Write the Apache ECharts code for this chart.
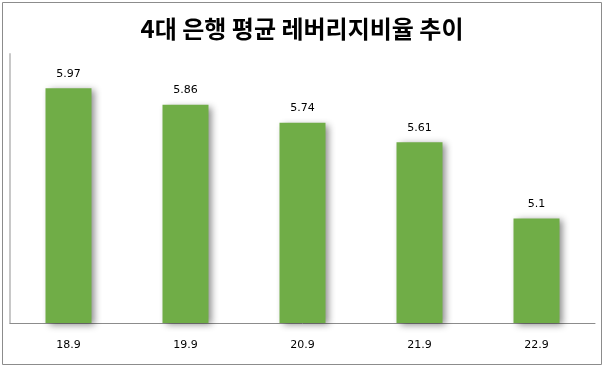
<!DOCTYPE html>
<html><head><meta charset="utf-8">
<script src="https://cdn.jsdelivr.net/npm/echarts@6/dist/echarts.min.js"></script>
<style>html,body{margin:0;padding:0;background:#fff}#c{width:604px;height:367px}</style>
</head><body><div id="c"></div>
<script>
const titleText = '4대 은행 평균 레버리지비율 추이';
const categories = ['18.9', '19.9', '20.9', '21.9', '22.9'];
const values = [5.97, 5.86, 5.74, 5.61, 5.1];

const chart = echarts.init(document.getElementById('c'));
chart.setOption({
  animation: false,
  backgroundColor: '#fff',
  graphic: [{type: 'rect', shape: {x: 2.5, y: 2.5, width: 599, height: 362}, style: {fill: 'none', stroke: '#8c8c8c', lineWidth: 1}}],
  title: {text: titleText, left: 'center', top: 12, textStyle: {fontFamily: 'Noto Sans CJK KR', fontWeight: 'bold', fontSize: 24, color: '#000'}},
  grid: {left: 10, right: 9, top: 54, bottom: 44},
  xAxis: {type: 'category', data: categories, axisTick: {show: false},
    axisLine: {lineStyle: {color: '#8c8c8c', width: 1}},
    axisLabel: {color: '#000', fontSize: 11, margin: 17, fontFamily: 'DejaVu Sans'}},
  yAxis: {type: 'value', min: 4.4, max: 6.2, splitLine: {show: false}, axisLabel: {show: false}, axisTick: {show: false},
    axisLine: {show: true, lineStyle: {color: '#c8c8c8', width: 2}}},
  series: [{type: 'bar', data: values, barWidth: 46,
    itemStyle: {color: '#70AD47', shadowColor: 'rgba(0,0,0,0.45)', shadowBlur: 7, shadowOffsetX: 3, shadowOffsetY: 2},
    label: {show: true, position: 'top', distance: 9, color: '#000', fontSize: 11, fontFamily: 'DejaVu Sans'}}]
});
</script></body></html>
